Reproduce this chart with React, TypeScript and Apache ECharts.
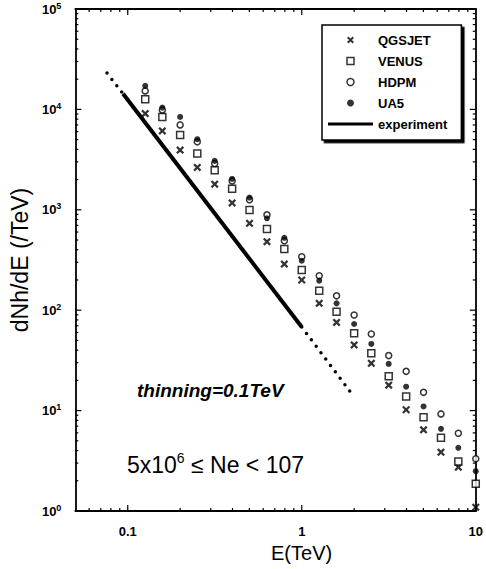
import React, { useEffect, useRef } from "react";
import * as echarts from "echarts";

const energies = [0.126, 0.158, 0.2, 0.251, 0.316, 0.398, 0.501, 0.631, 0.794, 1.0, 1.26, 1.585, 2.0, 2.51, 3.16, 3.98, 5.01, 6.31, 7.94, 10];
const qgsjet = [9080, 6110, 3930, 2640, 1800, 1170, 734, 481, 288, 200, 117, 75.6, 45.1, 29.6, 17.9, 10.2, 6.43, 3.85, 2.73, 1.09];
const venus = [12620, 8410, 5570, 3630, 2480, 1620, 993, 643, 406, 251, 156, 96.6, 58.8, 37.3, 22.0, 13.8, 8.58, 5.35, 3.11, 1.87];
const hdpm = [15280, 9890, 7010, 4750, 2890, 1940, 1258, 891, 492, 341, 220, 139, 89.5, 58, 35.3, 24.6, 15.2, 9.27, 5.94, 3.31];
const ua5 = [17140, 10420, 8410, 5050, 3070, 2030, 1325, 823, 526, 311, 197, 117, 72.9, 46.1, 29.2, 17.3, 11.0, 6.58, 4.26, 2.49];
const experimentSolid: [number, number][] = [[0.094, 14300], [1.0, 68]];
const experimentLowE: [number, number][] = [[0.076, 23000], [0.094, 14300]];
const experimentHighE: [number, number][] = [[1.0, 68], [1.95, 14.5]];
const xMajorTicks = [0.1, 1];
const xMinorTicks = [0.06, 0.07, 0.08, 0.09, 0.2, 0.3, 0.4, 0.5, 0.6, 0.7, 0.8, 0.9, 2, 3, 4, 5, 6, 7, 8, 9];
const yMajorTicks = [10, 100, 1000, 10000];
const yMinorTicks = [2, 3, 4, 5, 6, 7, 8, 9, 20, 30, 40, 50, 60, 70, 80, 90, 200, 300, 400, 500, 600, 700, 800, 900, 2000, 3000, 4000, 5000, 6000, 7000, 8000, 9000, 20000, 30000, 40000, 50000, 60000, 70000, 80000, 90000];

const X_MIN = 0.05, X_MAX = 10, Y_MIN = 1, Y_MAX = 100000;
const crossPath = "path://M0,2 L2,0 L5,3 L8,0 L10,2 L7,5 L10,8 L8,10 L5,7 L2,10 L0,8 L3,5 Z";
const squarePath = "path://M0,0 L10,0 L10,10 L0,10 Z";
const legendLinePath = "path://M0,0 L45,0 L45,3.2 L0,3.2 Z";
const FONT = "Liberation Sans, Arial, sans-serif";

const pair = (xs: number[], ys: number[]) => xs.map((x, i) => [x, ys[i]]);

export default function App() {
  const ref = useRef<HTMLDivElement>(null);
  useEffect(() => {
    if (!ref.current) return;
    const chart = echarts.init(ref.current, null, { renderer: "svg" });
    const isPow = (v: number) => {
      const e = Math.round(Math.log10(v));
      return Math.abs(v - Math.pow(10, e)) < 1e-6 * v ? e : null;
    };
    const baseX = { type: "log", min: X_MIN, max: X_MAX, logBase: 10, splitLine: { show: false }, axisTick: { show: false } };
    const baseY = { type: "log", min: Y_MIN, max: Y_MAX, logBase: 10, splitLine: { show: false }, axisTick: { show: false } };
    const line = { show: true, lineStyle: { color: "#000", width: 1.8 } };
    const tickRect = (x: number, y: number, w: number, h: number) => ({
      type: "rect", shape: { x, y, width: w, height: h }, style: { fill: "#000" },
    });
    const xTickSeries = (name: string, values: number[], len: number) => ({
      name, type: "custom", silent: true, clip: false,
      data: values.map((v) => [v, Y_MIN]),
      renderItem: (_p: any, api: any) => {
        const b = api.coord([api.value(0), Y_MIN]);
        const t = api.coord([api.value(0), Y_MAX]);
        return { type: "group", children: [tickRect(b[0] - 0.6, b[1] - len, 1.2, len), tickRect(t[0] - 0.6, t[1], 1.2, len)] };
      },
    });
    const yTickSeries = (name: string, values: number[], len: number) => ({
      name, type: "custom", silent: true, clip: false,
      data: values.map((v) => [X_MIN, v]),
      renderItem: (_p: any, api: any) => {
        const l = api.coord([X_MIN, api.value(1)]);
        const r = api.coord([X_MAX, api.value(1)]);
        return { type: "group", children: [tickRect(l[0], l[1] - 0.6, len, 1.2), tickRect(r[0] - len, r[1] - 0.6, len, 1.2)] };
      },
    });
    const option: any = {
      animation: false,
      backgroundColor: "#fff",
      grid: { left: 72, right: 9, top: 9, bottom: 58 },
      xAxis: [
        {
          ...baseX, position: "bottom", axisLine: line,
          axisLabel: {
            color: "#000", fontSize: 13, fontWeight: "bold", fontFamily: FONT, margin: 14,
            formatter: (v: number) => (isPow(v) !== null ? String(v) : ""),
          },
          name: "E(TeV)", nameLocation: "middle", nameGap: 32,
          nameTextStyle: { color: "#000", fontSize: 20, fontFamily: FONT, padding: [0, 0, 0, 52] },
        },
        { ...baseX, position: "top", axisLine: line, axisLabel: { show: false } },
      ],
      yAxis: [
        {
          ...baseY, position: "left", axisLine: line,
          axisLabel: {
            color: "#000", margin: 14,
            formatter: (v: number) => {
              const e = isPow(v);
              return e === null ? "" : `{b|10}{s|${e}}`;
            },
            rich: {
              b: { fontSize: 13, fontWeight: "bold", fontFamily: FONT, color: "#000" },
              s: { fontSize: 9, fontWeight: "bold", fontFamily: FONT, color: "#000", padding: [0, 0, 7, 0] },
            },
          },
          name: "dNh/dE (/TeV)", nameLocation: "middle", nameGap: 40, nameRotate: 90,
          nameTextStyle: { color: "#000", fontSize: 23, fontFamily: FONT },
        },
        { ...baseY, position: "right", axisLine: line, axisLabel: { show: false } },
      ],
      legend: {
        orient: "vertical", left: 322, top: 25,
        padding: [8, 14, 9, 6], itemGap: 7, itemWidth: 45, itemHeight: 7,
        borderColor: "#000", borderWidth: 1.5, backgroundColor: "#fff",
        shadowColor: "#000", shadowOffsetX: 2.5, shadowOffsetY: 2.5, shadowBlur: 0,
        textStyle: { color: "#000", fontSize: 13, fontWeight: "bold", fontFamily: FONT, lineHeight: 14 },
        data: [
          { name: "QGSJET", icon: crossPath, itemStyle: { color: "#000", borderWidth: 0 } },
          { name: "VENUS", icon: squarePath, itemStyle: { color: "#fff", borderColor: "#000", borderWidth: 1.5 } },
          { name: "HDPM", icon: "circle", itemStyle: { color: "#fff", borderColor: "#000", borderWidth: 1.5 } },
          { name: "UA5", icon: "circle", itemStyle: { color: "#000", borderWidth: 0 } },
          { name: "experiment", icon: legendLinePath, itemStyle: { color: "#000", borderWidth: 0 } },
        ],
      },
      graphic: [
        {
          type: "text", left: 137, top: 381,
          style: { text: "thinning=0.1TeV", fill: "#000", font: `italic bold 19px ${FONT}` },
        },
        {
          type: "text", left: 127, top: 451,
          style: {
            text: "{a|5x10}{s|6}{a| ≤ Ne < 107}",
            rich: {
              a: { fontSize: 23, fontFamily: FONT, fill: "#000" },
              s: { fontSize: 14, fontFamily: FONT, fill: "#000", padding: [0, 0, 13, 0] },
            },
          },
        },
      ],
      series: [
        xTickSeries("xMajorTicks", xMajorTicks, 6),
        xTickSeries("xMinorTicks", xMinorTicks, 3),
        yTickSeries("yMajorTicks", yMajorTicks, 6),
        yTickSeries("yMinorTicks", yMinorTicks, 3),
        {
          name: "experiment-low", type: "line", data: experimentLowE,
          symbol: "none", lineStyle: { color: "#000", width: 3.5, type: [0, 8], cap: "round" }, silent: true,
        },
        {
          name: "experiment", type: "line", data: experimentSolid,
          symbol: "none", lineStyle: { color: "#000", width: 4 }, itemStyle: { color: "#000" },
        },
        {
          name: "experiment-high", type: "line", data: experimentHighE,
          symbol: "none", lineStyle: { color: "#000", width: 3.5, type: [0, 8], cap: "round" }, silent: true,
        },
        {
          name: "QGSJET", type: "scatter", data: pair(energies, qgsjet),
          symbol: crossPath, symbolSize: 8, itemStyle: { color: "#000" },
        },
        {
          name: "VENUS", type: "scatter", data: pair(energies, venus),
          symbol: "rect", symbolSize: 7, itemStyle: { color: "#fff", borderColor: "#000", borderWidth: 1.5 },
        },
        {
          name: "HDPM", type: "scatter", data: pair(energies, hdpm),
          symbol: "circle", symbolSize: 6, itemStyle: { color: "#fff", borderColor: "#000", borderWidth: 1.5 },
        },
        {
          name: "UA5", type: "scatter", data: pair(energies, ua5),
          symbol: "circle", symbolSize: 6, itemStyle: { color: "#000" },
        },
      ],
    };
    chart.setOption(option);
    return () => chart.dispose();
  }, []);
  return <div ref={ref} style={{ position: "absolute", left: 0, top: 0, width: 486, height: 569 }} />;
}
